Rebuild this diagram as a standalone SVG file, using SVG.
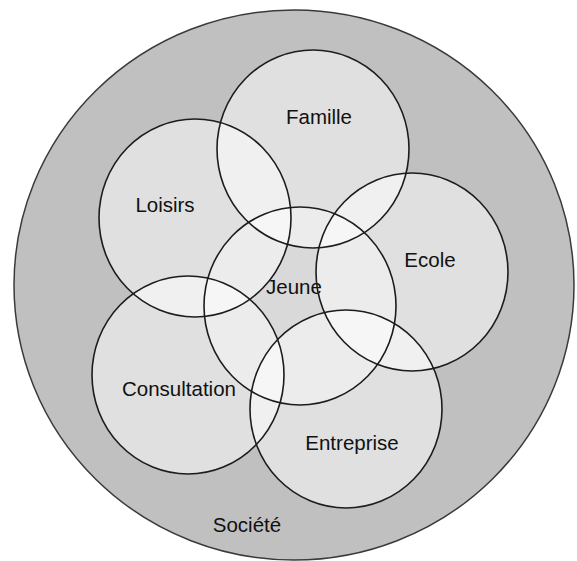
<svg xmlns="http://www.w3.org/2000/svg" width="577" height="561" viewBox="0 0 577 561">
<style>
.bg{fill:#ffffff}
.soc{fill:#c0c0c0}
.c{fill:#ffffff;fill-opacity:0.5}
.cj{fill:#ffffff;fill-opacity:0.4}
.ol{fill:none;stroke:#1c1c1c;stroke-width:1.6}
.olo{fill:none;stroke:#3a3a3a;stroke-width:1.5}
text{font-family:"Liberation Sans",Arial,sans-serif;font-size:20.5px;fill:#111;text-anchor:middle}
</style>
<rect class="bg" x="0" y="0" width="577" height="561"/>
<g id="societe">
<ellipse class="soc" cx="294" cy="285" rx="280" ry="275"/>
<text x="247" y="532">Société</text>
</g>
<g id="famille">
<ellipse class="c" cx="313" cy="149" rx="96" ry="99"/>
<text x="319" y="124">Famille</text>
</g>
<g id="loisirs">
<ellipse class="c" cx="195" cy="218" rx="96" ry="99"/>
<text x="165" y="212">Loisirs</text>
</g>
<g id="ecole">
<ellipse class="c" cx="412" cy="272" rx="96" ry="99"/>
<text x="430" y="267">Ecole</text>
</g>
<g id="consultation">
<ellipse class="c" cx="188" cy="375" rx="96" ry="99"/>
<text x="179" y="396">Consultation</text>
</g>
<g id="entreprise">
<ellipse class="c" cx="346" cy="409" rx="96" ry="99"/>
<text x="352" y="450">Entreprise</text>
</g>
<g id="jeune">
<ellipse class="cj" cx="300" cy="306" rx="96" ry="99"/>
<text x="294" y="294">Jeune</text>
</g>
<g id="connectors"/>
<g id="outlines">
<ellipse class="olo" cx="294" cy="285" rx="280" ry="275"/>
<ellipse class="ol" cx="313" cy="149" rx="96" ry="99"/>
<ellipse class="ol" cx="195" cy="218" rx="96" ry="99"/>
<ellipse class="ol" cx="412" cy="272" rx="96" ry="99"/>
<ellipse class="ol" cx="188" cy="375" rx="96" ry="99"/>
<ellipse class="ol" cx="346" cy="409" rx="96" ry="99"/>
<ellipse class="ol" cx="300" cy="306" rx="96" ry="99"/>
</g>
</svg>
